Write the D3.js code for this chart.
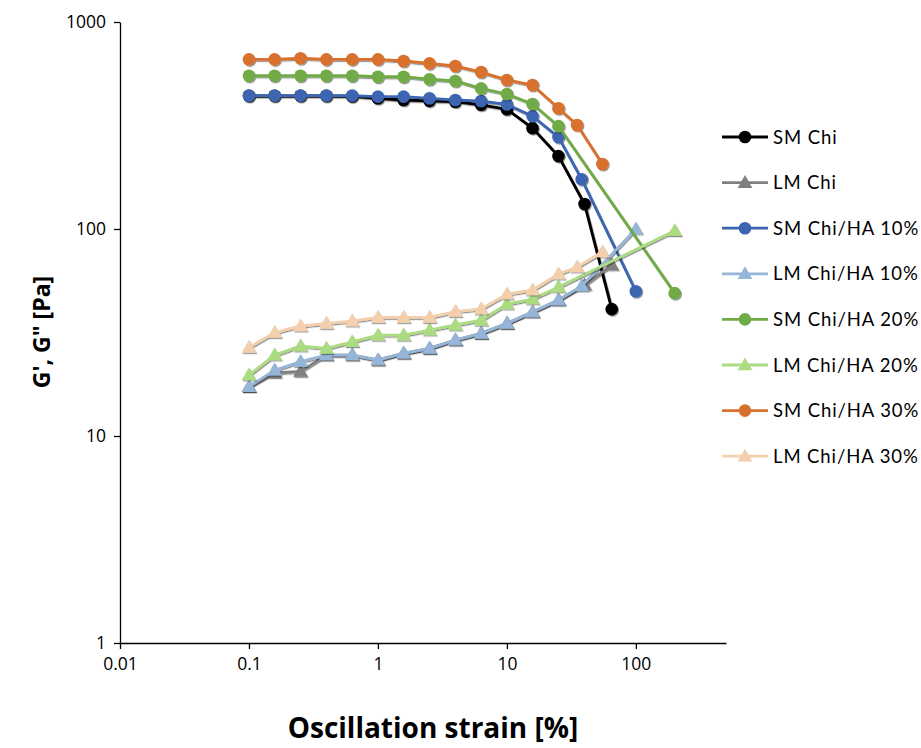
<!DOCTYPE html>
<html>
<head>
<meta charset="utf-8">
<script src="https://cdn.jsdelivr.net/npm/d3@7"></script>
<style>
  body { margin: 0; background: #fff; }
  text { font-family: Lato, "Open Sans", sans-serif; }
</style>
</head>
<body>
<div class="graph"></div>
<script>
// strain values shared by the first 13 points of every series
let baseStrain = [0.1, 0.158, 0.251, 0.398, 0.631, 1, 1.58, 2.51, 3.98, 6.31, 10, 15.8, 25.1];

let smChiX = baseStrain.concat([40, 65]);
let smChiY = [440, 440, 440, 440, 438, 428, 420, 416, 412, 398, 379, 307, 225, 132, 41];
let lmChiX = baseStrain.concat([40, 65]);
let lmChiY = [17.3, 20.2, 20.5, 24.6, 24.6, 23.3, 25.1, 26.5, 29.1, 31.3, 35.0, 39.7, 45.4, 53.6, 67];

let sm10X = baseStrain.concat([38, 100]);
let sm10Y = [441, 441, 441, 441, 441, 436, 436, 428, 420, 415, 400, 351, 278, 174, 50];
let lm10X = baseStrain.concat([38, 100]);
let lm10Y = [17.3, 20.8, 22.9, 24.6, 24.6, 23.3, 25.1, 26.5, 29.1, 31.3, 35.0, 39.7, 45.4, 53.1, 100];

let sm20X = baseStrain.concat([200]);
let sm20Y = [550, 550, 550, 550, 550, 544, 544, 529, 519, 478, 449, 402, 314, 49];
let lm20X = baseStrain.concat([200]);
let lm20Y = [19.7, 24.6, 27.2, 26.5, 28.5, 30.7, 30.7, 32.5, 34.4, 36.3, 43.4, 45.9, 52.5, 98];

let sm30X = baseStrain.concat([35, 55]);
let sm30Y = [660, 660, 668, 660, 660, 660, 648, 631, 613, 573, 525, 496, 383, 318, 206];
let lm30X = baseStrain.concat([35, 55]);
let lm30Y = [26.8, 31.6, 34.0, 35.0, 35.9, 37.4, 37.4, 37.4, 39.9, 41.1, 48.5, 50.7, 60.6, 65.5, 77.4];

let seriesNames = ["SM Chi", "LM Chi", "SM Chi/HA 10%", "LM Chi/HA 10%",
  "SM Chi/HA 20%", "LM Chi/HA 20%", "SM Chi/HA 30%", "LM Chi/HA 30%"];
let xTicks = [0.01, 0.1, 1, 10, 100];
let yTicks = [1, 10, 100, 1000];

let colors = ["#000000", "#808080", "#3c65b1", "#95b6d8", "#6fab46", "#acdc82", "#d8702d", "#f3cfac"];
let shapes = ["circle", "triangle", "circle", "triangle", "circle", "triangle", "circle", "triangle"];

let allX = [smChiX, lmChiX, sm10X, lm10X, sm20X, lm20X, sm30X, lm30X];
let allY = [smChiY, lmChiY, sm10Y, lm10Y, sm20Y, lm20Y, sm30Y, lm30Y];

let series = seriesNames.map(function (name, i) {
  return {
    name: name,
    color: colors[i],
    shape: shapes[i],
    points: allX[i].map((x, j) => ({ x: x, y: allY[i][j] }))
  };
});

let w = 921;
let h = 748;

let svg = d3.select(".graph").append("svg").attr("width", w).attr("height", h);

let defs = svg.append("defs");
defs.append("filter")
  .attr("id", "shadow")
  .attr("x", "-30%").attr("y", "-30%").attr("width", "160%").attr("height", "160%")
  .append("feDropShadow")
  .attr("dx", 1).attr("dy", 1.2).attr("stdDeviation", 0.6)
  .attr("flood-color", "#000").attr("flood-opacity", 0.45);

let xScale = d3.scaleLog().domain([0.01, 500]).range([120, 726]);
let yScale = d3.scaleLog().domain([1, 1000]).range([643, 22]);

let xAxis = d3.axisBottom(xScale).tickValues(xTicks).tickFormat(d => String(d))
  .tickSizeInner(6).tickSizeOuter(0).tickPadding(9);
let yAxis = d3.axisLeft(yScale).tickValues(yTicks).tickFormat(d => String(d))
  .tickSizeInner(6).tickSizeOuter(0).tickPadding(8);

let gx = svg.append("g").attr("transform", "translate(0,643)").call(xAxis);
let gy = svg.append("g").attr("transform", "translate(120,0)").call(yAxis);
[gx, gy].forEach(function (g) {
  g.selectAll("path, line").attr("stroke", "#000").attr("stroke-width", 1.3);
  g.selectAll("text").attr("fill", "#000").style("font-size", "17.5px")
    .style("font-family", "'Open Sans', sans-serif");
});

let line = d3.line().x(d => xScale(d.x)).y(d => yScale(d.y));
let tri = d3.symbol().type(d3.symbolTriangle).size(95);

function drawMarker(g, shape, color, cx, cy) {
  if (shape === "circle") {
    g.append("circle").attr("cx", cx).attr("cy", cy).attr("r", 6.3).attr("fill", color);
  } else {
    g.append("path").attr("d", tri).attr("transform", "translate(" + cx + "," + (cy + 1) + ")")
      .attr("fill", color);
  }
}

series.forEach(function (s) {
  let g = svg.append("g").attr("filter", "url(#shadow)");
  g.append("path")
    .datum(s.points)
    .attr("d", line)
    .attr("fill", "none")
    .attr("stroke", s.color)
    .attr("stroke-width", 2.8);
  s.points.forEach(function (p) {
    drawMarker(g, s.shape, s.color, xScale(p.x), yScale(p.y));
  });
});

// legend
let legend = svg.append("g");
series.forEach(function (s, i) {
  let ly = 137 + i * 45.6;
  let g = legend.append("g");
  g.append("line").attr("x1", 722).attr("x2", 768).attr("y1", ly).attr("y2", ly)
    .attr("stroke", s.color).attr("stroke-width", 2.8);
  drawMarker(g, s.shape, s.color, 745, ly);
  g.append("text").attr("x", 773).attr("y", ly + 6.5)
    .style("font-size", "18.5px").style("letter-spacing", "0.9px")
    .text(s.name);
});

// axis titles
svg.append("text")
  .attr("x", 433).attr("y", 738)
  .attr("text-anchor", "middle")
  .style("font-size", "28px").style("font-weight", "bold")
  .style("font-family", "'Open Sans', sans-serif")
  .text("Oscillation strain [%]");

svg.append("text")
  .attr("transform", "translate(50,332) rotate(-90)")
  .attr("text-anchor", "middle")
  .style("font-size", "23px").style("font-weight", "bold")
  .style("font-family", "'Open Sans', sans-serif")
  .text("G', G\" [Pa]");
</script>
</body>
</html>
